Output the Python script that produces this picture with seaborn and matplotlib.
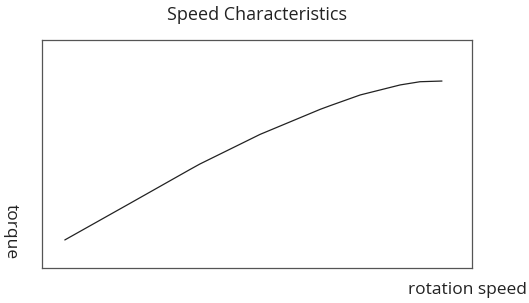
import numpy as np
import pandas as pd
import matplotlib
matplotlib.use("Agg")
import matplotlib.pyplot as plt
import seaborn as sns

# valeurs (unités arbitraires, 0-100)
rotation_speed = [5.3, 20.5, 34.4, 36.7, 50.7, 64.7, 67.0, 74.0, 83.3, 87.9, 93.0]
torque = [12.3, 28.4, 43.2, 45.6, 58.6, 69.6, 71.2, 75.9, 80.3, 81.7, 82.0]

title = "Speed Characteristics"
x_label = "rotation speed"
y_label = "torque"

df = pd.DataFrame({"speed": rotation_speed, "torque": torque})

sns.set_style("white")
plt.rcParams["font.family"] = ["Open Sans", "DejaVu Sans"]

fig = plt.figure(figsize=(5.29, 3.03), dpi=100)
ax = fig.add_axes([0.0794, 0.1155, 0.813, 0.7525])

sns.lineplot(data=df, x="speed", y="torque", ax=ax, color="#222222",
             linewidth=0.9, sort=True)

ax.set_xlim(0, 100)
ax.set_ylim(0, 100)
ax.set_xticks([])
ax.set_yticks([])
ax.set_xlabel("")
ax.set_ylabel("")
for s in ax.spines.values():
    s.set_color("#555555")
    s.set_linewidth(0.9)

# textes placés à la main pour coller à la référence
fig.text(257 / 529, 1 - 15 / 303, title, ha="center", va="center",
         fontsize=13, color="#222222")
fig.text(527 / 529, 1 - 290 / 303, x_label, ha="right", va="center",
         fontsize=12.5, color="#222222")
fig.text(11 / 529, 1 - 232 / 303, y_label, ha="center", va="center",
         rotation=-90, fontsize=12.5, color="#222222")

plt.savefig("out.png", dpi=100)
